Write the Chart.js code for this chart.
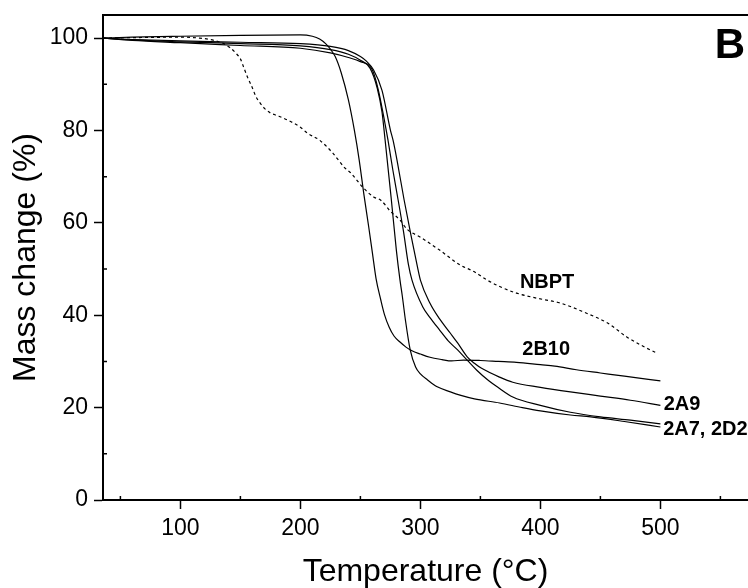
<!DOCTYPE html>
<html><head><meta charset="utf-8">
<script src="https://cdn.jsdelivr.net/npm/chart.js@4.4.1/dist/chart.umd.min.js"></script>
<style>html,body{margin:0;padding:0;background:#fff;overflow:hidden}#wrap{width:748px;height:588px;position:relative}</style>
</head><body><div id="wrap"><canvas id="c" width="748" height="588"></canvas></div>
<script>
// ---- data ----
const xTickValues = [100, 200, 300, 400, 500];
const yTickValues = [0, 20, 40, 60, 80, 100];
const xMinorValues = [50, 150, 250, 350, 450, 550];
const yMinorValues = [10, 30, 50, 70, 90];

const tempNBPT = [35.5, 60, 100, 116, 128, 136, 141, 146, 150, 153, 156, 160, 163, 166.5, 170, 175, 181, 189, 200, 206, 216, 227, 237, 242, 252, 261, 267, 275, 283, 289, 300, 316, 333, 345, 355, 367, 380, 395, 417, 436, 456, 472, 484, 497];
const massNBPT = [100, 100.1, 100.2, 100, 99.5, 98.8, 98.0, 96.8, 95.5, 93.5, 91.5, 89.2, 87.3, 85.9, 84.8, 83.8, 83.2, 82.3, 80.7, 79.4, 77.9, 75.1, 71.9, 70.8, 67.7, 65.6, 64.9, 62.5, 60.6, 58.6, 56.9, 54.1, 50.9, 49.4, 47.7, 46.1, 44.8, 43.8, 42.6, 40.7, 38.3, 35.3, 33.5, 31.8];

const temp2B10 = [35.5, 60, 100, 150, 200, 210, 216, 221, 225, 229, 234, 240, 245, 249, 253, 257, 260, 263, 267, 270, 274, 278, 283, 288, 293, 300, 308, 318, 326, 336, 350, 365, 380, 400, 412, 430, 450, 470, 500];
const mass2B10 = [100, 100.2, 100.4, 100.6, 100.7, 100.4, 99.8, 98.8, 97.6, 96.0, 92.5, 86.6, 80.0, 73.6, 66.0, 59.0, 53.5, 48.0, 43.3, 40.2, 37.4, 35.5, 34.2, 33.1, 32.3, 31.6, 30.9, 30.4, 30.1, 30.3, 30.2, 30.0, 29.8, 29.3, 29.0, 28.2, 27.5, 26.8, 25.8];

const temp2A7 = [35.5, 60, 100, 150, 200, 225, 240, 250, 258, 264, 268, 270.6, 275.6, 280, 283, 285, 287.5, 291.5, 296, 300, 306, 314, 325, 333, 345, 366, 385, 400, 425, 442, 470, 500];
const mass2A7 = [100, 99.6, 99.2, 98.8, 98.3, 97.5, 96.5, 95.2, 93.5, 89.2, 84.0, 77.9, 65.5, 54.0, 47.6, 44.0, 39.0, 32.5, 28.8, 27.3, 26.0, 24.5, 23.4, 22.7, 21.9, 21.0, 20.0, 19.3, 18.4, 18.0, 17.0, 15.8];

const temp2D2 = [35.5, 60, 100, 150, 200, 225, 240, 250, 260, 265, 270.5, 273, 277, 281.4, 286, 290, 293, 302, 308, 316, 323, 331, 340, 347, 357, 364, 377, 400, 425, 450, 475, 500];
const mass2D2 = [100, 99.5, 99.0, 98.4, 97.8, 96.8, 95.8, 94.9, 93.1, 88.7, 81.5, 77.9, 71.5, 65.0, 58.0, 51.0, 47.6, 41.8, 39.5, 36.8, 34.5, 32.5, 30.0, 28.1, 25.8, 24.5, 22.3, 20.5, 19.0, 18.0, 17.3, 16.5];

const temp2A9 = [35.5, 60, 100, 150, 200, 225, 240, 250, 255, 261, 268, 275, 277.2, 280.5, 286.4, 292, 297.5, 300, 308, 316, 325, 331, 339, 345, 351, 366, 377, 400, 425, 450, 475, 500];
const mass2A9 = [100, 99.7, 99.4, 99.1, 98.8, 98.2, 97.3, 96.0, 95.0, 93.1, 88.7, 80.1, 77.9, 73.6, 65.0, 57.5, 50.5, 47.6, 42.6, 39.2, 36.1, 34.0, 31.0, 29.6, 28.5, 26.6, 25.5, 24.4, 23.4, 22.5, 21.6, 20.5];

const curveLabels = ['NBPT', '2B10', '2A9', '2A7, 2D2'];
const curveLabelTemp = [405.6, 404.8, 518, 537.5];
const curveLabelMass = [47.0, 32.5, 20.6, 15.2];
const panelLetter = 'B';

// ---- chart ----
const FONT = '"Liberation Sans", Arial, Helvetica, sans-serif';
function pts(t, m) { return t.map((v, i) => ({ x: v, y: m[i] })); }
function ds(t, m, dash) {
  return { data: pts(t, m), borderColor: '#000', borderWidth: 1.2, borderDash: dash || [],
           pointRadius: 0, cubicInterpolationMode: 'monotone', fill: false };
}

const decor = {
  id: 'decor',
  afterDraw(chart) {
    const { ctx, chartArea: a, scales: { x, y } } = chart;
    ctx.save();
    ctx.strokeStyle = '#000';
    ctx.lineWidth = 2;
    ctx.beginPath();
    ctx.moveTo(a.left - 1, a.top);
    ctx.lineTo(a.right, a.top);
    ctx.stroke();
    ctx.lineWidth = 1.5;
    ctx.beginPath();
    xMinorValues.forEach(v => { const p = x.getPixelForValue(v); ctx.moveTo(p, a.bottom); ctx.lineTo(p, a.bottom - 4); });
    yMinorValues.forEach(v => { const p = y.getPixelForValue(v); ctx.moveTo(a.left, p); ctx.lineTo(a.left + 4, p); });
    ctx.stroke();
    ctx.fillStyle = '#000';
    ctx.font = 'bold 20px ' + FONT;
    ctx.textAlign = 'center';
    ctx.textBaseline = 'middle';
    curveLabels.forEach((s, i) => {
      ctx.fillText(s, x.getPixelForValue(curveLabelTemp[i]), y.getPixelForValue(curveLabelMass[i]));
    });
    ctx.font = 'bold 42px ' + FONT;
    ctx.textAlign = 'right';
    ctx.textBaseline = 'alphabetic';
    ctx.fillText(panelLetter, a.right - 3, a.top + 43);
    ctx.restore();
  }
};

new Chart(document.getElementById('c'), {
  type: 'line',
  data: { datasets: [
    ds(tempNBPT, massNBPT, [3, 3]),
    ds(temp2B10, mass2B10),
    ds(temp2A7, mass2A7),
    ds(temp2D2, mass2D2),
    ds(temp2A9, mass2A9)
  ] },
  options: {
    responsive: false, animation: false, devicePixelRatio: 1,
    layout: { padding: { top: 15, right: 0, left: 0, bottom: 0 } },
    plugins: { legend: { display: false }, tooltip: { enabled: false } },
    scales: {
      x: {
        type: 'linear', min: 35.5, max: 573,
        afterBuildTicks: s => { s.ticks = xTickValues.map(v => ({ value: v })); },
        afterFit: s => { s.height = 88; s.paddingLeft = 0; s.paddingRight = 0; },
        grid: { drawOnChartArea: false, drawTicks: true, tickLength: 9, tickWidth: 1.5, tickColor: '#000' },
        border: { display: true, color: '#000', width: 2 },
        ticks: { color: '#000', font: { family: FONT, size: 23 }, padding: 6, maxRotation: 0, autoSkip: false, callback: v => String(v) },
        title: { display: true, text: 'Temperature (°C)', color: '#000', font: { family: FONT, size: 32, lineHeight: 1 }, padding: { top: 0, bottom: 0 } }
      },
      y: {
        type: 'linear', min: 0, max: 105,
        afterBuildTicks: s => { s.ticks = yTickValues.map(v => ({ value: v })); },
        afterFit: s => { s.width = 103; s.paddingTop = 0; s.paddingBottom = 0; },
        grid: { drawOnChartArea: false, drawTicks: true, tickLength: 9, tickWidth: 1.5, tickColor: '#000' },
        border: { display: true, color: '#000', width: 2 },
        ticks: { color: '#000', font: { family: FONT, size: 23 }, padding: 6, autoSkip: false, callback: v => String(v) },
        title: { display: true, text: 'Mass change (%)', color: '#000', font: { family: FONT, size: 32, lineHeight: 1 }, padding: { top: 10, bottom: 0 } }
      }
    }
  },
  plugins: [decor]
});
</script>
</body></html>
